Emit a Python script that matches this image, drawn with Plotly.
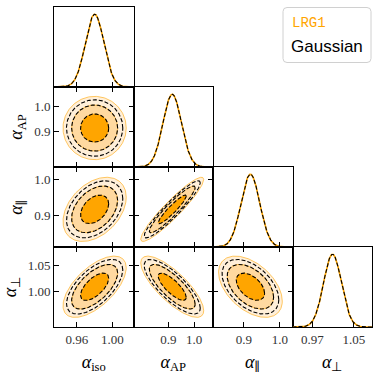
import numpy as np
import plotly.graph_objects as go
from plotly.subplots import make_subplots

# parameters of the corner plot
PAR = '<span style="font-family:DejaVu Serif">∥</span>'
labels = ["<i>α</i><sub>iso</sub>", "<i>α</i><sub>AP</sub>", "<i>α</i><sub>" + PAR + "</sub>", "<i>α</i><sub>⊥</sub>"]
means = [0.980, 0.915, 0.918, 1.009]
sigmas = [0.0105, 0.036, 0.026, 0.0172]
corr = [
    [1.00, 0.00, 0.38, 0.62],
    [0.00, 1.00, 0.93, -0.78],
    [0.38, 0.93, 1.00, -0.47],
    [0.62, -0.78, -0.47, 1.00],
]
ranges = [[0.934, 1.024], [0.764, 1.074], [0.814, 1.035], [0.932, 1.085]]
col_ticks = [[0.96, 1.00], [0.9, 1.0], [0.9, 1.0], [0.97, 1.05]]
col_ticktext = [["0.96", "1.00"], ["0.9", "1.0"], ["0.9", "1.0"], ["0.97", "1.05"]]
row_ticks = [None, [0.9, 1.0], [0.9, 1.0], [1.00, 1.05]]
row_ticktext = [None, ["0.9", "1.0"], ["0.9", "1.0"], ["1.00", "1.05"]]

fill_levels = [0.997, 0.954, 0.683]
fill_colors = ["#FFEFD9", "#FFD9A0", "#FFA500"]
dash_levels = [0.683, 0.954, 0.99]

ORANGE = "#FFA500"
n = len(means)

fig = make_subplots(rows=n, cols=n, horizontal_spacing=0, vertical_spacing=0)


def ellipse(i, j, p, npts=200):
    # i -> x parameter, j -> y parameter
    sx, sy = sigmas[i], sigmas[j]
    rho = corr[i][j]
    cov = np.array([[sx**2, rho * sx * sy], [rho * sx * sy, sy**2]])
    L = np.linalg.cholesky(cov)
    r = np.sqrt(-2 * np.log(1 - p))
    t = np.linspace(0, 2 * np.pi, npts)
    pts = r * L @ np.vstack([np.cos(t), np.sin(t)])
    return means[i] + pts[0], means[j] + pts[1]


tickfont = dict(family="Liberation Serif", size=13, color="#333")
titlefont = dict(family="Liberation Serif", size=18, color="black")

for row in range(n):
    for col in range(n):
        r, c = row + 1, col + 1
        if col > row:
            fig.update_xaxes(visible=False, row=r, col=c)
            fig.update_yaxes(visible=False, row=r, col=c)
            continue
        if col == row:
            xs = np.linspace(ranges[col][0], ranges[col][1], 300)
            ys = np.exp(-0.5 * ((xs - means[col]) / sigmas[col]) ** 2)
            fig.add_trace(go.Scatter(x=xs, y=ys, mode="lines", line=dict(color=ORANGE, width=1.6),
                                     showlegend=False, hoverinfo="skip"), row=r, col=c)
            fig.add_trace(go.Scatter(x=xs, y=ys, mode="lines", line=dict(color="black", width=1.1, dash="4px,2px"),
                                     showlegend=False, hoverinfo="skip"), row=r, col=c)
            fig.update_yaxes(range=[0, 1.1], showticklabels=False, ticks="", showgrid=False,
                             zeroline=False, showline=True, linecolor="black", linewidth=1,
                             mirror=True, row=r, col=c)
            fig.update_xaxes(mirror=True, row=r, col=c)
        else:
            for p, fc in zip(fill_levels, fill_colors):
                ex, ey = ellipse(col, row, p)
                fig.add_trace(go.Scatter(x=ex, y=ey, mode="lines", fill="toself", fillcolor=fc,
                                         line=dict(color=ORANGE, width=0.6),
                                         showlegend=False, hoverinfo="skip"), row=r, col=c)
            for p in dash_levels:
                ex, ey = ellipse(col, row, p)
                fig.add_trace(go.Scatter(x=ex, y=ey, mode="lines",
                                         line=dict(color="black", width=1.1, dash="4px,2px"),
                                         showlegend=False, hoverinfo="skip"), row=r, col=c)
            yaxis_opts = dict(range=ranges[row], tickvals=row_ticks[row], ticktext=row_ticktext[row],
                              ticks="inside", ticklen=5, tickcolor="black", mirror="ticks",
                              showline=True, linecolor="black", linewidth=1, showgrid=False, zeroline=False,
                              showticklabels=(col == 0), tickfont=tickfont)
            if col == 0:
                yaxis_opts["title"] = dict(text=labels[row], font=titlefont, standoff=6)
            fig.update_yaxes(row=r, col=c, **yaxis_opts)
            fig.update_xaxes(mirror="ticks", row=r, col=c)
        xaxis_opts = dict(range=ranges[col], tickvals=col_ticks[col], ticktext=col_ticktext[col],
                          ticks="inside", ticklen=5, tickcolor="black",
                          showline=True, linecolor="black", linewidth=1, showgrid=False, zeroline=False,
                          showticklabels=(row == n - 1), tickfont=tickfont)
        if row == n - 1:
            xaxis_opts["title"] = dict(text=labels[col], font=titlefont, standoff=9)
        fig.update_xaxes(row=r, col=c, **xaxis_opts)

# legend box
W, H = 379, 379
ml, mr, mt, mb = 54, 7, 7, 52
pw, ph = W - ml - mr, H - mt - mb


def px(x):
    return (x - ml) / pw


def py(y):
    return 1 - (y - mt) / ph


x0, x1, y0, y1, rad = 283, 371, 7.5, 62.5, 4
path = (f"M {px(x0 + rad)},{py(y0)} L {px(x1 - rad)},{py(y0)} "
        f"Q {px(x1)},{py(y0)} {px(x1)},{py(y0 + rad)} L {px(x1)},{py(y1 - rad)} "
        f"Q {px(x1)},{py(y1)} {px(x1 - rad)},{py(y1)} L {px(x0 + rad)},{py(y1)} "
        f"Q {px(x0)},{py(y1)} {px(x0)},{py(y1 - rad)} L {px(x0)},{py(y0 + rad)} "
        f"Q {px(x0)},{py(y0)} {px(x0 + rad)},{py(y0)} Z")
fig.add_shape(type="path", path=path, xref="paper", yref="paper",
              line=dict(color="#d0d0d0", width=1), fillcolor="white")
fig.add_annotation(text="LRG1", x=px(290), y=py(22.5), xref="paper", yref="paper",
                   xanchor="left", yanchor="middle", showarrow=False,
                   font=dict(family="Liberation Mono", size=14, color=ORANGE))
fig.add_annotation(text="Gaussian", x=px(289), y=py(46.5), xref="paper", yref="paper",
                   xanchor="left", yanchor="middle", showarrow=False,
                   font=dict(family="Liberation Sans", size=17, color="black"))

fig.update_layout(width=W, height=H, margin=dict(l=ml, r=mr, t=mt, b=mb),
                  plot_bgcolor="white", paper_bgcolor="white", showlegend=False)

fig.write_html("out.html", config={"displayModeBar": False},
               post_script="document.body.style.margin='0';")
